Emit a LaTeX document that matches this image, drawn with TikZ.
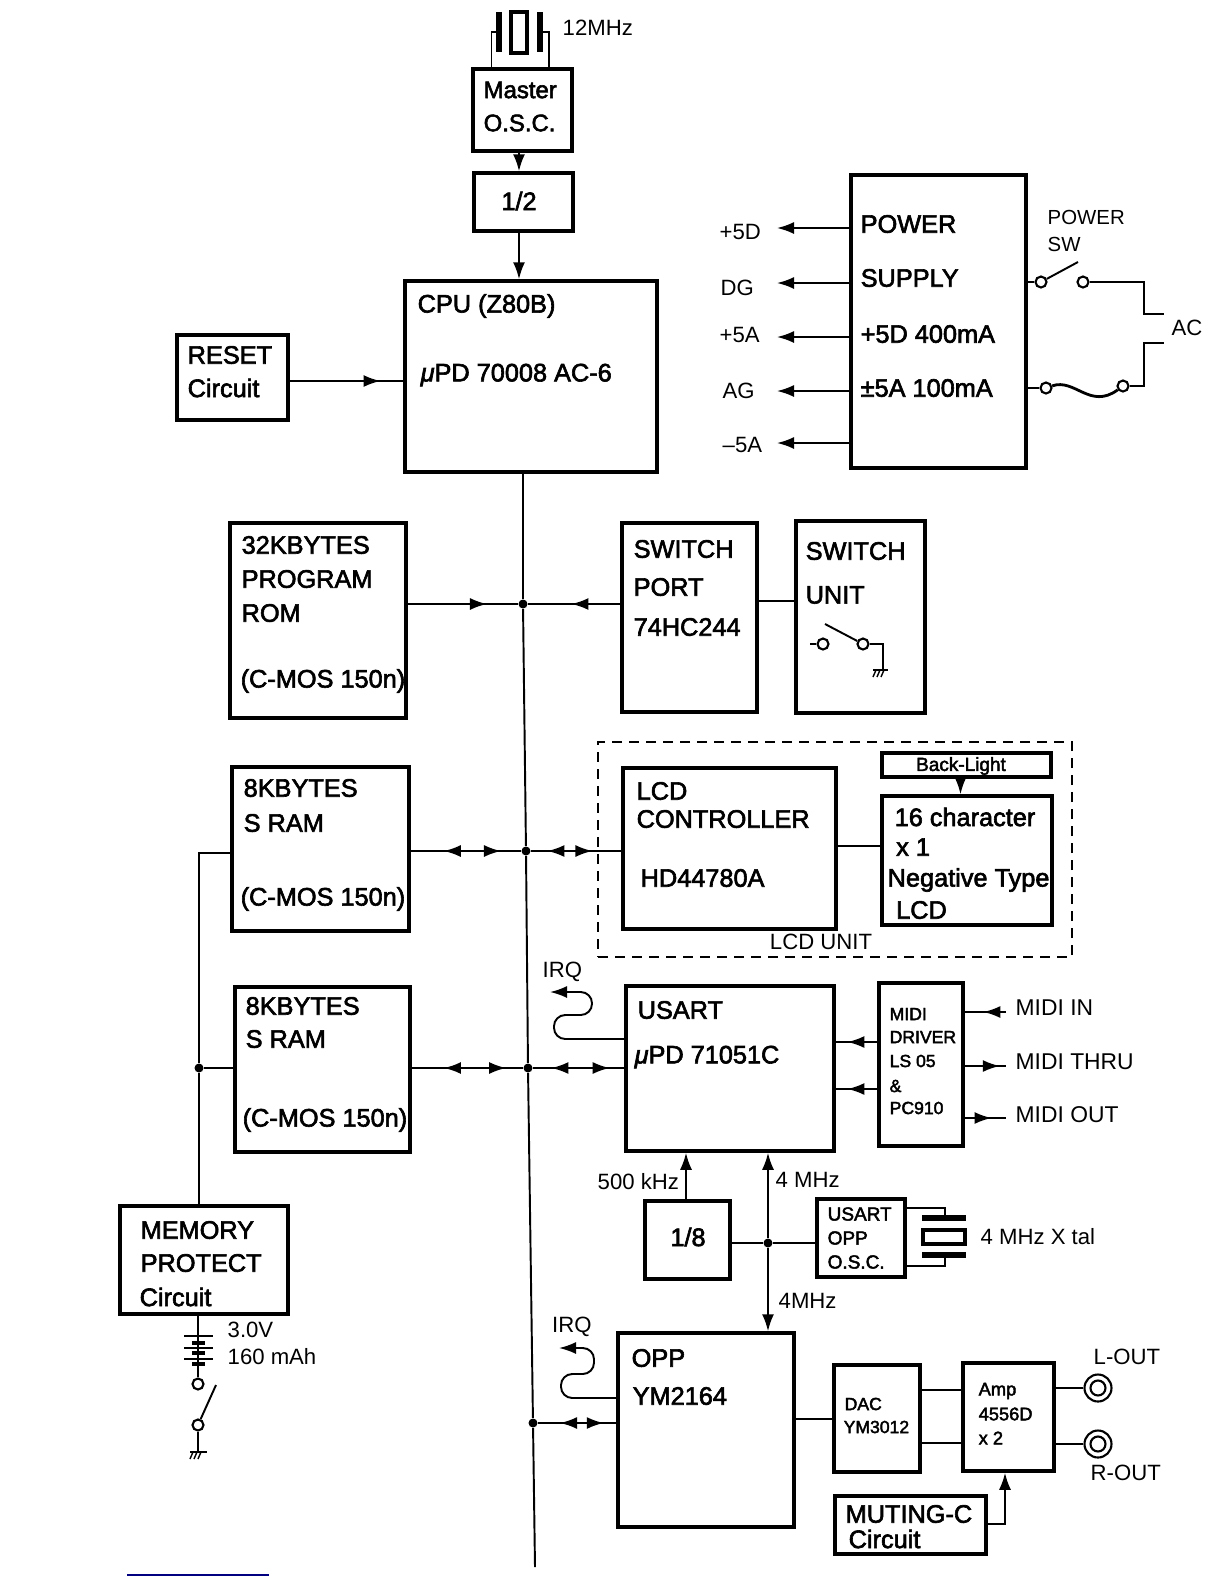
\documentclass[tikz,border=0pt]{standalone}
\usepackage{fontspec}
\setmainfont{Liberation Sans}
\newfontfamily\boxfont[FakeBold=2.4]{Liberation Sans}
\usetikzlibrary{arrows.meta,decorations.markings}
\tikzset{
  bustip/.tip={Latex[length=1.7mm,width=1.2mm]},
  blockbox/.style={draw,line width=1pt,inner sep=0pt},
  boxlabel/.style={anchor=west,inner sep=0pt,font=\boxfont\fontsize{7.2}{9}\selectfont},
  smalllabel/.style={anchor=west,inner sep=0pt,font=\boxfont\fontsize{5}{6}\selectfont},
  pinlabel/.style={anchor=west,inner sep=0pt,font=\fontsize{6.3}{8}\selectfont},
  junction/.style={circle,fill=black,inner sep=0pt,minimum size=0.9mm},
  terminal/.style={circle,draw,fill=white,inner sep=0pt,minimum size=1.1mm,line width=0.6pt},
  wire/.style={line width=0.55pt},
  arrowline/.style={wire,-bustip},
  tipat/.style={postaction={decorate,decoration={markings,mark=at position #1 with {\arrow{bustip}}}}},
  tipback/.style={postaction={decorate,decoration={markings,mark=at position #1 with {\arrowreversed{bustip}}}}},
  plate/.style={line width=1.5pt},
}
\begin{document}
\begin{tikzpicture}[x=1cm,y=-1cm]
  \useasboundingbox (0,0) rectangle (12.24,15.84);

  % oscillator and CPU
  \node[blockbox,minimum width=0.99cm,minimum height=0.82cm] (master) at (5.225,1.10) {};
  \node[blockbox,minimum width=0.99cm,minimum height=0.58cm] (half) at (5.235,2.02) {};
  \node[blockbox,minimum width=2.52cm,minimum height=1.91cm] (cpu) at (5.31,3.765) {};
  \node[blockbox,minimum width=1.11cm,minimum height=0.85cm] (reset) at (2.325,3.775) {};
  \node[boxlabel,font=\boxfont\fontsize{6.8}{9}\selectfont] (masterA) at (4.83,0.90) {Master};
  \node[boxlabel,font=\boxfont\fontsize{6.8}{9}\selectfont] (masterB) at (4.83,1.23) {O.S.C.};
  \node[boxlabel,anchor=center] (halfA) at (5.19,2.01) {1/2};
  \node[boxlabel] (cpuA) at (4.17,3.06) {CPU (Z80B)};
  \node[boxlabel] (cpuB) at (4.20,3.75) {{\itshape μ}PD 70008 AC-6};
  \node[boxlabel] (resetA) at (1.87,3.55) {RESET};
  \node[boxlabel] (resetB) at (1.87,3.88) {Circuit};
  \coordinate (clkline) at (5.19,0);
  \coordinate (resetin) at (3,3.81);
  \draw[arrowline] (master.south -| clkline) -- (half.north -| clkline);
  \draw[arrowline] (half.south -| clkline) -- (cpu.north -| clkline);
  \draw[wire,tipat=0.8] (reset.east |- resetin) -- (cpu.west |- resetin);

  % 12MHz crystal
  \coordinate (xtalL) at (4.915,0.32);
  \coordinate (xtalR) at (5.49,0.32);
  \node[pinlabel] (xtalA) at (5.62,0.28) {12MHz};
  \draw[wire] (master.north -| xtalL) -- (xtalL) -- (4.99,0.32);
  \draw[wire] (master.north -| xtalR) -- (xtalR) -- (5.40,0.32);
  \draw[plate] (4.99,0.12) -- (4.99,0.52);
  \draw[plate] (5.40,0.12) -- (5.40,0.52);
  \draw[line width=1.2pt] (5.11,0.12) rectangle (5.27,0.53);

  % power supply
  \node[blockbox,minimum width=1.75cm,minimum height=2.93cm] (psu) at (9.385,3.215) {};
  \node[boxlabel] (psuA) at (8.60,2.24) {POWER};
  \node[boxlabel] (psuB) at (8.60,2.78) {SUPPLY};
  \node[boxlabel] (psuC) at (8.60,3.34) {+5D 400mA};
  \node[boxlabel] (psuD) at (8.60,3.88) {±5A 100mA};
  \coordinate (outA) at (7.77,2.28);
  \coordinate (outB) at (7.77,2.83);
  \coordinate (outC) at (7.77,3.37);
  \coordinate (outD) at (7.77,3.91);
  \coordinate (outE) at (7.77,4.43);
  \draw[arrowline] (psu.west |- outA) -- (outA);
  \draw[arrowline] (psu.west |- outB) -- (outB);
  \draw[arrowline] (psu.west |- outC) -- (outC);
  \draw[arrowline] (psu.west |- outD) -- (outD);
  \draw[arrowline] (psu.west |- outE) -- (outE);
  \node[pinlabel] (outlabelA) at (7.19,2.32) {+5D};
  \node[pinlabel] (outlabelB) at (7.20,2.88) {DG};
  \node[pinlabel] (outlabelC) at (7.19,3.35) {+5A};
  \node[pinlabel] (outlabelD) at (7.22,3.91) {AG};
  \node[pinlabel] (outlabelE) at (7.22,4.45) {–5A};
  \node[pinlabel,font=\fontsize{5.8}{8}\selectfont] (swlabelA) at (10.47,2.17) {POWER};
  \node[pinlabel,font=\fontsize{5.8}{8}\selectfont] (swlabelB) at (10.47,2.44) {SW};
  \node[pinlabel] (aclabel) at (11.71,3.28) {AC};

  % mains side
  \node[terminal] (swA) at (10.41,2.82) {};
  \node[terminal] (swB) at (10.83,2.82) {};
  \node[terminal] (fuseA) at (10.46,3.88) {};
  \node[terminal] (fuseB) at (11.23,3.86) {};
  \coordinate (acA) at (11.64,3.14);
  \coordinate (acB) at (11.64,3.43);
  \draw[wire] (psu.east |- swA) -- (swA);
  \draw[wire] (swA) -- (10.78,2.62);
  \draw[wire] (swB) -- (11.44,2.82) -- (11.44,3.14) -- (acA);
  \draw[wire] (psu.east |- fuseA) -- (fuseA);
  \draw[line width=0.8pt] (fuseA) .. controls (10.75,3.78) and (10.90,4.10) .. (fuseB);
  \draw[wire] (fuseB) -- (11.44,3.86) -- (11.44,3.43) -- (acB);

  % program ROM and switches
  \node[blockbox,minimum width=1.76cm,minimum height=1.95cm] (rom) at (3.18,6.205) {};
  \node[blockbox,minimum width=1.35cm,minimum height=1.89cm] (port) at (6.895,6.175) {};
  \node[blockbox,minimum width=1.29cm,minimum height=1.92cm] (swunit) at (8.605,6.17) {};
  \node[boxlabel] (romA) at (2.41,5.45) {32KBYTES};
  \node[boxlabel] (romB) at (2.41,5.79) {PROGRAM};
  \node[boxlabel] (romC) at (2.41,6.13) {ROM};
  \node[boxlabel] (romD) at (2.40,6.81) {(C-MOS 150n)};
  \node[boxlabel] (portA) at (6.33,5.49) {SWITCH};
  \node[boxlabel] (portB) at (6.33,5.87) {PORT};
  \node[boxlabel] (portC) at (6.33,6.27) {74HC244};
  \node[boxlabel] (swunitA) at (8.05,5.51) {SWITCH};
  \node[boxlabel] (swunitB) at (8.05,5.95) {UNIT};
  \node[terminal] (keyA) at (8.23,6.44) {};
  \node[terminal] (keyB) at (8.63,6.44) {};
  \coordinate (keygnd) at (8.83,6.70);
  \draw[wire] (8.10,6.44) -- (keyA);
  \draw[wire] (keyB) -- (8.25,6.24);
  \draw[wire] (keyB) -- (keygnd |- keyB) -- (keygnd);
  \draw[wire] (8.73,6.70) -- (8.88,6.70);
  \foreach \i in {8.76,8.80,8.84} \draw[line width=0.4pt] (\i,6.70) -- (\i-0.03,6.77);
  \coordinate (portlink) at (8,6.01);
  \draw[wire] (port.east |- portlink) -- (swunit.west |- portlink);

  % static RAM
  \node[blockbox,minimum width=1.77cm,minimum height=1.64cm] (sramA) at (3.205,8.49) {};
  \node[blockbox,minimum width=1.75cm,minimum height=1.65cm] (sramB) at (3.225,10.695) {};
  \node[boxlabel] (sramAa) at (2.43,7.88) {8KBYTES};
  \node[boxlabel] (sramAb) at (2.43,8.23) {S RAM};
  \node[boxlabel] (sramAc) at (2.40,8.99) {(C-MOS 150n)};
  \node[boxlabel] (sramBa) at (2.45,10.06) {8KBYTES};
  \node[boxlabel] (sramBb) at (2.45,10.39) {S RAM};
  \node[boxlabel] (sramBc) at (2.42,11.20) {(C-MOS 150n)};

  % LCD unit
  \node[draw,dashed,line width=0.5pt,dash pattern=on 1mm off 0.7mm,minimum width=4.74cm,minimum height=2.15cm] (lcdunit) at (8.35,8.495) {};
  \node[blockbox,minimum width=2.13cm,minimum height=1.61cm] (lcdctl) at (7.295,8.485) {};
  \node[blockbox,minimum width=1.69cm,minimum height=0.24cm] (backlight) at (9.665,7.65) {};
  \node[blockbox,minimum width=1.70cm,minimum height=1.29cm] (lcdpanel) at (9.67,8.605) {};
  \node[boxlabel] (lcdctlA) at (6.36,7.91) {LCD};
  \node[boxlabel] (lcdctlB) at (6.36,8.19) {CONTROLLER};
  \node[boxlabel] (lcdctlC) at (6.40,8.78) {HD44780A};
  \node[smalllabel,anchor=center,font=\boxfont\fontsize{5.4}{6}\selectfont] (backlightA) at (9.61,7.66) {Back-Light};
  \node[boxlabel] (lcdpanelA) at (8.94,8.17) {16 character};
  \node[boxlabel] (lcdpanelB) at (8.955,8.47) {x 1};
  \node[boxlabel] (lcdpanelC) at (8.87,8.80) {Negative Type};
  \node[boxlabel] (lcdpanelD) at (8.955,9.10) {LCD};
  \node[pinlabel,anchor=center] (lcdunitA) at (8.21,9.42) {LCD UNIT};
  \coordinate (lcdlink) at (8.6,8.46);
  \coordinate (lightlink) at (9.605,7.8);
  \draw[wire] (lcdctl.east |- lcdlink) -- (lcdpanel.west |- lcdlink);
  \draw[arrowline] (backlight.south -| lightlink) -- (lcdpanel.north -| lightlink);

  % USART and MIDI
  \node[blockbox,minimum width=2.08cm,minimum height=1.65cm] (usart) at (7.30,10.685) {};
  \node[blockbox,minimum width=0.84cm,minimum height=1.63cm] (driver) at (9.21,10.645) {};
  \node[boxlabel] (usartA) at (6.37,10.10) {USART};
  \node[boxlabel] (usartB) at (6.34,10.57) {{\itshape μ}PD 71051C};
  \node[smalllabel] (driverA) at (8.89,10.14) {MIDI};
  \node[smalllabel] (driverB) at (8.89,10.37) {DRIVER};
  \node[smalllabel] (driverC) at (8.89,10.61) {LS 05};
  \node[smalllabel] (driverD) at (8.89,10.86) {\&};
  \node[smalllabel] (driverE) at (8.89,11.08) {PC910};
  \node[pinlabel] (irqA) at (5.42,9.72) {IRQ};
  \coordinate (irqAend) at (5.50,9.92);
  \coordinate (irqAfrom) at (6,10.39);
  \draw[arrowline,rounded corners=3.2pt] (usart.west |- irqAfrom) -- (5.54,10.39) -- (5.54,10.15) -- (5.92,10.15) -- (5.92,9.92) -- (irqAend);
  \coordinate (rxA) at (8.5,10.42);
  \coordinate (rxB) at (8.5,10.89);
  \draw[wire,tipat=0.72] (driver.west |- rxA) -- (usart.east |- rxA);
  \draw[wire,tipat=0.72] (driver.west |- rxB) -- (usart.east |- rxB);
  \coordinate (midiin) at (10.06,10.12);
  \coordinate (midithru) at (10.06,10.66);
  \coordinate (midiout) at (10.06,11.18);
  \draw[wire,tipat=0.55] (midiin) -- (driver.east |- midiin);
  \draw[wire,tipat=0.85] (driver.east |- midithru) -- (midithru);
  \draw[wire,tipat=0.65] (driver.east |- midiout) -- (midiout);
  \node[pinlabel,font=\fontsize{6.5}{8}\selectfont] (midiinA) at (10.15,10.08) {MIDI IN};
  \node[pinlabel,font=\fontsize{6.5}{8}\selectfont] (midithruA) at (10.15,10.62) {MIDI THRU};
  \node[pinlabel,font=\fontsize{6.5}{8}\selectfont] (midioutA) at (10.15,11.15) {MIDI OUT};

  % clock generation
  \node[blockbox,minimum width=0.85cm,minimum height=0.78cm] (divider) at (6.875,12.40) {};
  \node[blockbox,minimum width=0.88cm,minimum height=0.78cm] (usosc) at (8.61,12.38) {};
  \node[boxlabel,anchor=center] (dividerA) at (6.88,12.37) {1/8};
  \node[smalllabel,font=\boxfont\fontsize{5.4}{6}\selectfont] (usoscA) at (8.27,12.14) {USART};
  \node[smalllabel,font=\boxfont\fontsize{5.4}{6}\selectfont] (usoscB) at (8.27,12.38) {OPP};
  \node[smalllabel,font=\boxfont\fontsize{5.4}{6}\selectfont] (usoscC) at (8.27,12.62) {O.S.C.};
  \node[junction] (clkjoin) at (7.68,12.43) {};
  \node[pinlabel] (clklabelA) at (5.97,11.82) {500 kHz};
  \node[pinlabel] (clklabelB) at (7.75,11.80) {4 MHz};
  \node[pinlabel] (clklabelC) at (7.78,13.01) {4MHz};
  \node[pinlabel] (clklabelD) at (9.80,12.37) {4 MHz X tal};
  \coordinate (slowclk) at (6.86,12);
  \draw[arrowline] (divider.north -| slowclk) -- (usart.south -| slowclk);
  \draw[wire] (divider.east |- clkjoin) -- (clkjoin) -- (usosc.west |- clkjoin);
  \draw[arrowline] (clkjoin) -- (usart.south -| clkjoin);

  % OPP and audio
  \node[blockbox,minimum width=1.76cm,minimum height=1.94cm] (opp) at (7.06,14.30) {};
  \node[blockbox,minimum width=0.86cm,minimum height=1.07cm] (dac) at (8.77,14.185) {};
  \node[blockbox,minimum width=0.91cm,minimum height=1.08cm] (amp) at (10.085,14.17) {};
  \node[blockbox,minimum width=1.51cm,minimum height=0.58cm] (muting) at (9.105,15.25) {};
  \node[boxlabel] (oppA) at (6.31,13.58) {OPP};
  \node[boxlabel] (oppB) at (6.32,13.96) {YM2164};
  \node[smalllabel] (dacA) at (8.44,14.04) {DAC};
  \node[smalllabel] (dacB) at (8.43,14.27) {YM3012};
  \node[smalllabel,font=\boxfont\fontsize{5.2}{6}\selectfont] (ampA) at (9.78,13.91) {Amp};
  \node[smalllabel,font=\boxfont\fontsize{5.2}{6}\selectfont] (ampB) at (9.78,14.14) {4556D};
  \node[smalllabel,font=\boxfont\fontsize{5.2}{6}\selectfont] (ampC) at (9.78,14.38) {x 2};
  \node[boxlabel] (mutingA) at (8.45,15.14) {MUTING-C};
  \node[boxlabel] (mutingB) at (8.48,15.39) {Circuit};
  \node[pinlabel] (irqB) at (5.515,13.27) {IRQ};
  \coordinate (irqBend) at (5.59,13.48);
  \coordinate (irqBfrom) at (6,13.98);
  \draw[arrowline,rounded corners=3.2pt] (opp.west |- irqBfrom) -- (5.61,13.98) -- (5.61,13.74) -- (5.94,13.74) -- (5.94,13.48) -- (irqBend);
  \draw[arrowline] (clkjoin) -- (opp.north -| clkjoin);
  \coordinate (daclink) at (8,14.19);
  \coordinate (amplinkA) at (9.4,13.90);
  \coordinate (amplinkB) at (9.4,14.43);
  \draw[wire] (opp.east |- daclink) -- (dac.west |- daclink);
  \draw[wire] (dac.east |- amplinkA) -- (amp.west |- amplinkA);
  \draw[wire] (dac.east |- amplinkB) -- (amp.west |- amplinkB);
  \node[circle,draw,line width=0.6pt,inner sep=0pt,minimum size=2.7mm] (jackL) at (10.98,13.88) {};
  \node[circle,draw,line width=0.6pt,inner sep=0pt,minimum size=2.7mm] (jackR) at (10.98,14.44) {};
  \node[circle,draw,line width=0.6pt,inner sep=0pt,minimum size=1.5mm] (jackLin) at (jackL) {};
  \node[circle,draw,line width=0.6pt,inner sep=0pt,minimum size=1.5mm] (jackRin) at (jackR) {};
  \draw[wire] (amp.east |- jackL) -- (jackL);
  \draw[wire] (amp.east |- jackR) -- (jackR);
  \node[pinlabel] (jacklabelL) at (10.93,13.57) {L-OUT};
  \node[pinlabel] (jacklabelR) at (10.90,14.73) {R-OUT};
  \coordinate (mutelink) at (10.05,15.24);
  \draw[arrowline] (muting.east |- mutelink) -- (mutelink) -- (amp.south -| mutelink);

  % memory back-up
  \node[blockbox,minimum width=1.68cm,minimum height=1.08cm] (memprot) at (2.04,12.60) {};
  \node[boxlabel] (memprotA) at (1.40,12.30) {MEMORY};
  \node[boxlabel] (memprotB) at (1.40,12.63) {PROTECT};
  \node[boxlabel] (memprotC) at (1.39,12.97) {Circuit};
  \node[pinlabel] (battA) at (2.27,13.30) {3.0V};
  \node[pinlabel] (battB) at (2.27,13.57) {160 mAh};
  \node[junction] (ramjoin) at (1.99,10.68) {};
  \coordinate (ramtop) at (1.99,8.53);
  \draw[wire] (memprot.north -| ramjoin) -- (ramjoin) -- (ramtop) -- (sramA.west |- ramtop);
  \draw[wire] (ramjoin) -- (sramB.west |- ramjoin);
  \node[terminal] (backupA) at (1.98,13.84) {};
  \node[terminal] (backupB) at (1.98,14.25) {};
  \coordinate (backupgnd) at (1.98,14.52);
  \draw[wire] (memprot.south -| backupA) -- (backupA);
  \foreach \y in {13.36,13.48,13.59} \draw[line width=0.6pt] (1.84,\y) -- (2.13,\y);
  \foreach \y in {13.43,13.53,13.64} \draw[line width=1.3pt] (1.92,\y) -- (2.05,\y);
  \draw[wire] (backupB) -- (2.16,13.85);
  \draw[wire] (backupB) -- (backupgnd);
  \draw[wire] (1.90,14.52) -- (2.07,14.52);
  \foreach \i in {1.93,1.97,2.01} \draw[line width=0.4pt] (\i,14.52) -- (\i-0.03,14.59);

  % data bus
  \node[junction] (busrom) at (5.23,6.04) {};
  \node[junction] (busramA) at (5.26,8.51) {};
  \node[junction] (busramB) at (5.28,10.68) {};
  \node[junction] (busopp) at (5.33,14.23) {};
  \coordinate (bustop) at (5.23,4.72);
  \coordinate (busend) at (5.35,15.67);
  \draw[wire] (bustop) -- (busrom) -- (busramA) -- (busramB) -- (busopp) -- (busend);
  \draw[wire,tipat=0.72] (rom.east |- busrom) -- (busrom);
  \draw[wire,tipat=0.53] (port.west |- busrom) -- (busrom);
  \draw[wire,tipback=0.30,tipat=0.82] (sramA.east |- busramA) -- (busramA);
  \draw[wire,tipback=0.18,tipat=0.68] (busramA) -- (lcdctl.west |- busramA);
  \draw[wire,tipback=0.29,tipat=0.85] (sramB.east |- busramB) -- (busramB);
  \draw[wire,tipback=0.20,tipat=0.84] (busramB) -- (usart.west |- busramB);
  \draw[wire,tipback=0.28,tipat=0.84] (busopp) -- (opp.west |- busopp);

  % crystal of the USART/OPP clock
  \coordinate (xtalB) at (9.45,12.08);
  \coordinate (xtalC) at (9.45,12.66);
  \draw[wire] (usosc.east |- xtalB) -- (xtalB) -- (9.45,12.18);
  \draw[wire] (usosc.east |- xtalC) -- (xtalC) -- (9.45,12.55);
  \draw[plate] (9.22,12.18) -- (9.66,12.18);
  \draw[plate] (9.22,12.55) -- (9.66,12.55);
  \draw[line width=1.2pt] (9.23,12.30) rectangle (9.65,12.44);

  % rule at the foot of the page
  \coordinate (ruleA) at (1.27,15.75);
  \coordinate (ruleB) at (2.69,15.75);
  \draw[blue!50!black,line width=0.4pt] (ruleA) -- (ruleB);
\end{tikzpicture}
\end{document}
